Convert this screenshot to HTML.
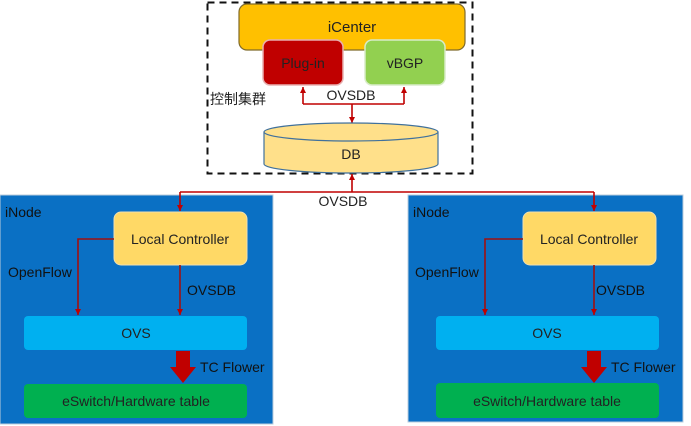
<!DOCTYPE html>
<html><head><meta charset="utf-8"><style>
html,body{margin:0;padding:0;background:#fff;}
svg{display:block;font-family:"Liberation Sans","Noto Sans CJK SC",sans-serif;}
</style></head><body>
<svg width="691" height="426" viewBox="0 0 691 426" xmlns="http://www.w3.org/2000/svg">
<defs>
<marker id="a" markerWidth="7" markerHeight="7" refX="6" refY="3" orient="auto" markerUnits="userSpaceOnUse"><path d="M0,0 L6,3 L0,6 z" fill="#C00000"/></marker>
</defs>
<rect width="691" height="426" fill="#fff"/>
<rect x="207.5" y="2.5" width="265" height="171" fill="none" stroke="#111" stroke-width="2" stroke-dasharray="7,5"/>
<rect x="239" y="4" width="226" height="46" rx="8" fill="#FFC000" stroke="#7f6a2a" stroke-width="1.2"/>
<text x="352" y="32" font-size="15" text-anchor="middle" fill="#222">iCenter</text>
<rect x="263" y="40" width="80" height="45" rx="7" fill="#C00000" stroke="#e8b0b0" stroke-width="1.5"/>
<text x="303" y="68" font-size="14" text-anchor="middle" fill="#222">Plug-in</text>
<rect x="365" y="40" width="80" height="45" rx="7" fill="#92D050" stroke="#d8ecc8" stroke-width="1.5"/>
<text x="405" y="68" font-size="14" text-anchor="middle" fill="#222">vBGP</text>
<text x="210" y="104" font-size="14" fill="#222">控制集群</text>
<text x="351" y="100" font-size="14" text-anchor="middle" fill="#222">OVSDB</text>
<g stroke="#C00000" stroke-width="1.6" fill="none">
<path d="M303,104 H404" />
<path d="M303,104 V87" marker-end="url(#a)"/>
<path d="M404,104 V87" marker-end="url(#a)"/>
<path d="M352,104 V123" marker-end="url(#a)"/>
</g>
<path d="M264,132 V164 A87,9 0 0 0 438,164 V132" fill="#FFE08A" stroke="#41719C" stroke-width="1.2"/>
<ellipse cx="351" cy="132" rx="87" ry="9" fill="#FFE08A" stroke="#41719C" stroke-width="1.2"/>
<text x="351" y="159" font-size="14" text-anchor="middle" fill="#222">DB</text>
<g stroke="#C00000" stroke-width="1.6" fill="none">
<path d="M180,192 H594"/>
<path d="M352,192 V174" marker-end="url(#a)"/>
</g>
<text x="343" y="206" font-size="14" text-anchor="middle" fill="#222">OVSDB</text>
<g>
<rect x="0" y="195" width="273" height="229" fill="#0A70C4" stroke="#bcd" stroke-width="1"/>
<text x="5" y="217" font-size="14" fill="#111">iNode</text>
<rect x="114" y="212" width="133" height="53" rx="7" fill="#FFD966" stroke="#f0e0b0" stroke-width="1"/>
<text x="180" y="244" font-size="14" text-anchor="middle" fill="#222">Local  Controller</text>
<rect x="24" y="316" width="223" height="34" rx="4" fill="#00B0F0"/>
<text x="136" y="338" font-size="14" text-anchor="middle" fill="#222">OVS</text>
<rect x="24" y="384" width="223" height="34" rx="4" fill="#00B050"/>
<text x="136" y="406" font-size="14" text-anchor="middle" fill="#222">eSwitch/Hardware table</text>
<g stroke="#A01010" stroke-width="1.6" fill="none">
<path d="M114,239 H78 V315" marker-end="url(#a)"/>
<path d="M180,265 V315" marker-end="url(#a)"/>
<path d="M180,192 V211" stroke="#C00000" marker-end="url(#a)"/>
</g>
<path d="M176,351 H190 V367 H196 L183,383 L170,367 H176 z" fill="#C00000"/>
<text x="8" y="277" font-size="14" fill="#111">OpenFlow</text>
<text x="187" y="295" font-size="14" fill="#111">OVSDB</text>
<text x="200" y="372" font-size="14" fill="#111">TC Flower</text>
</g>
<g transform="translate(410,0)">
<rect x="-2" y="195" width="275" height="227" fill="#0A70C4" stroke="#bcd" stroke-width="1"/>
<text x="3" y="217" font-size="14" fill="#111">iNode</text>
<rect x="113" y="212" width="133" height="53" rx="7" fill="#FFD966" stroke="#f0e0b0" stroke-width="1"/>
<text x="179" y="244" font-size="14" text-anchor="middle" fill="#222">Local Controller</text>
<rect x="26" y="316" width="223" height="34" rx="4" fill="#00B0F0"/>
<text x="137" y="338" font-size="14" text-anchor="middle" fill="#222">OVS</text>
<rect x="26" y="383" width="223" height="35" rx="4" fill="#00B050"/>
<text x="137" y="406" font-size="14" text-anchor="middle" fill="#222">eSwitch/Hardware table</text>
<g stroke="#A01010" stroke-width="1.6" fill="none">
<path d="M113,239 H75 V315" marker-end="url(#a)"/>
<path d="M184,265 V315" marker-end="url(#a)"/>
<path d="M184,192 V211" stroke="#C00000" marker-end="url(#a)"/>
</g>
<path d="M177,351 H191 V367 H197 L184,383 L171,367 H177 z" fill="#C00000"/>
<text x="5" y="277" font-size="14" fill="#111">OpenFlow</text>
<text x="186" y="295" font-size="14" fill="#111">OVSDB</text>
<text x="201" y="372" font-size="14" fill="#111">TC Flower</text>
</g>
</svg>
</body></html>
